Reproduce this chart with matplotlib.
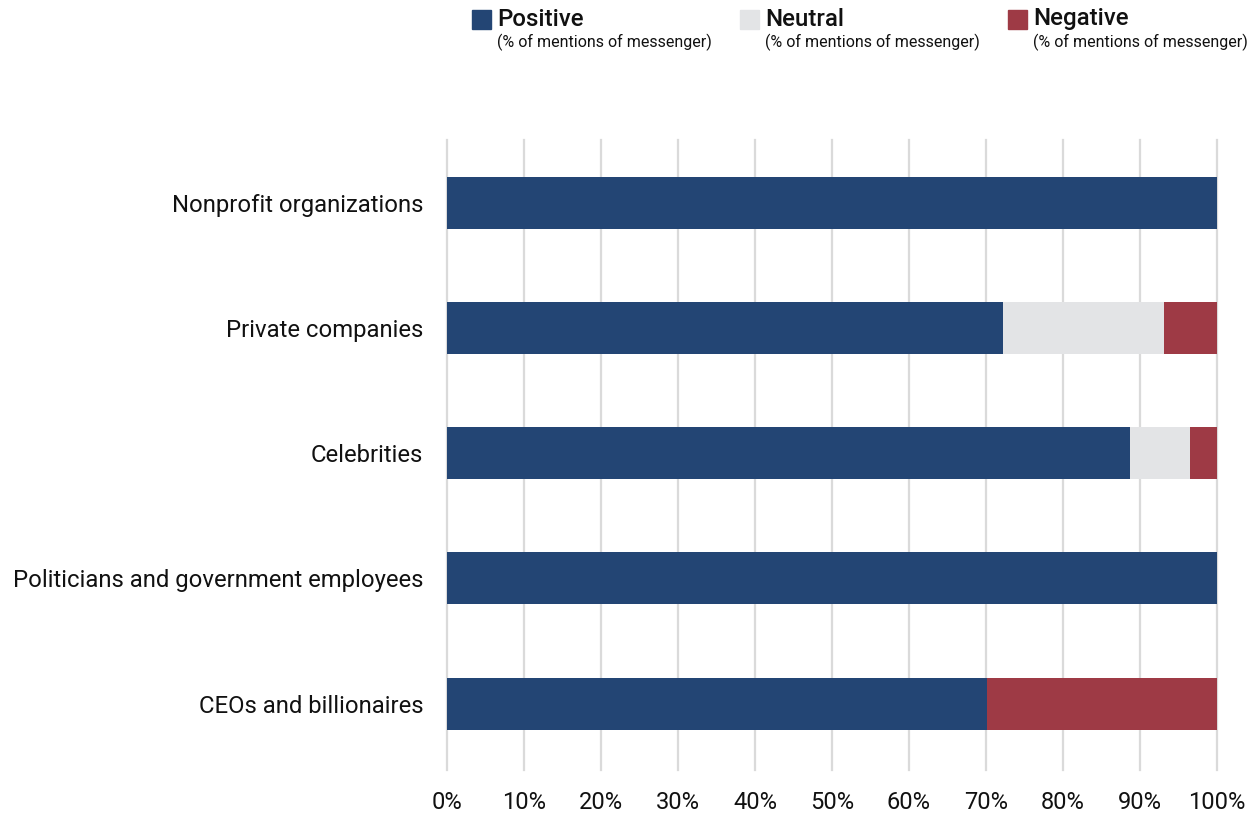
import numpy as np
import matplotlib.pyplot as plt
from matplotlib.patches import Rectangle

plt.rcParams['font.family'] = ['Roboto', 'DejaVu Sans']

# messenger types, top to bottom
messengers = ['Nonprofit organizations', 'Private companies', 'Celebrities',
              'Politicians and government employees', 'CEOs and billionaires']
positive = [100.0, 72.2, 88.7, 100.0, 70.1]
neutral = [0.0, 20.9, 7.8, 0.0, 0.0]
negative = [0.0, 6.9, 3.5, 0.0, 29.9]

series = ['Positive', 'Neutral', 'Negative']
colors = ['#234574', '#E3E4E6', '#9E3A45']
x_ticks = list(range(0, 101, 10))

fig = plt.figure(figsize=(12.59, 8.18), dpi=100)
ax = fig.add_axes([0.355, 0.0587, 0.6116, 0.7702])

y = np.arange(len(messengers))
left = np.zeros(len(messengers))
for vals, c in zip([positive, neutral, negative], colors):
    ax.barh(y, vals, left=left, height=0.415, color=c, zorder=3)
    left += np.array(vals)

ax.set_ylim(len(messengers) - 0.47, -0.5)
ax.set_xlim(0, 100)
ax.set_yticks(y)
ax.set_yticklabels(messengers, fontsize=17.2, color='#111111')
ax.set_xticks(x_ticks)
ax.set_xticklabels([f'{t}%' for t in x_ticks], fontsize=17, color='#111111')
ax.tick_params(axis='both', length=0)
ax.tick_params(axis='y', pad=17)
ax.tick_params(axis='x', pad=15)
ax.grid(axis='x', color='#dadada', linewidth=1.6, zorder=0)
for sp in ax.spines.values():
    sp.set_visible(False)
for gl in ax.get_xgridlines():
    gl.set_clip_on(False)

# legend across the top
W, H = fig.get_size_inches() * fig.dpi
legend_x = [472, 740, 1008]
for name, c, lx in zip(series, colors, legend_x):
    fig.add_artist(Rectangle((lx / W, 1 - 29 / H), 19 / W, 19 / H,
                             transform=fig.transFigure, color=c))
    fig.text((lx + 25) / W, 1 - 19 / H, name, fontsize=17.3, fontweight='medium',
             color='#111111', va='center', ha='left')
    fig.text((lx + 25) / W, 1 - 42 / H, '(% of mentions of messenger)', fontsize=11.5,
             color='#111111', va='center', ha='left')

fig.savefig('out.png', dpi=100)
